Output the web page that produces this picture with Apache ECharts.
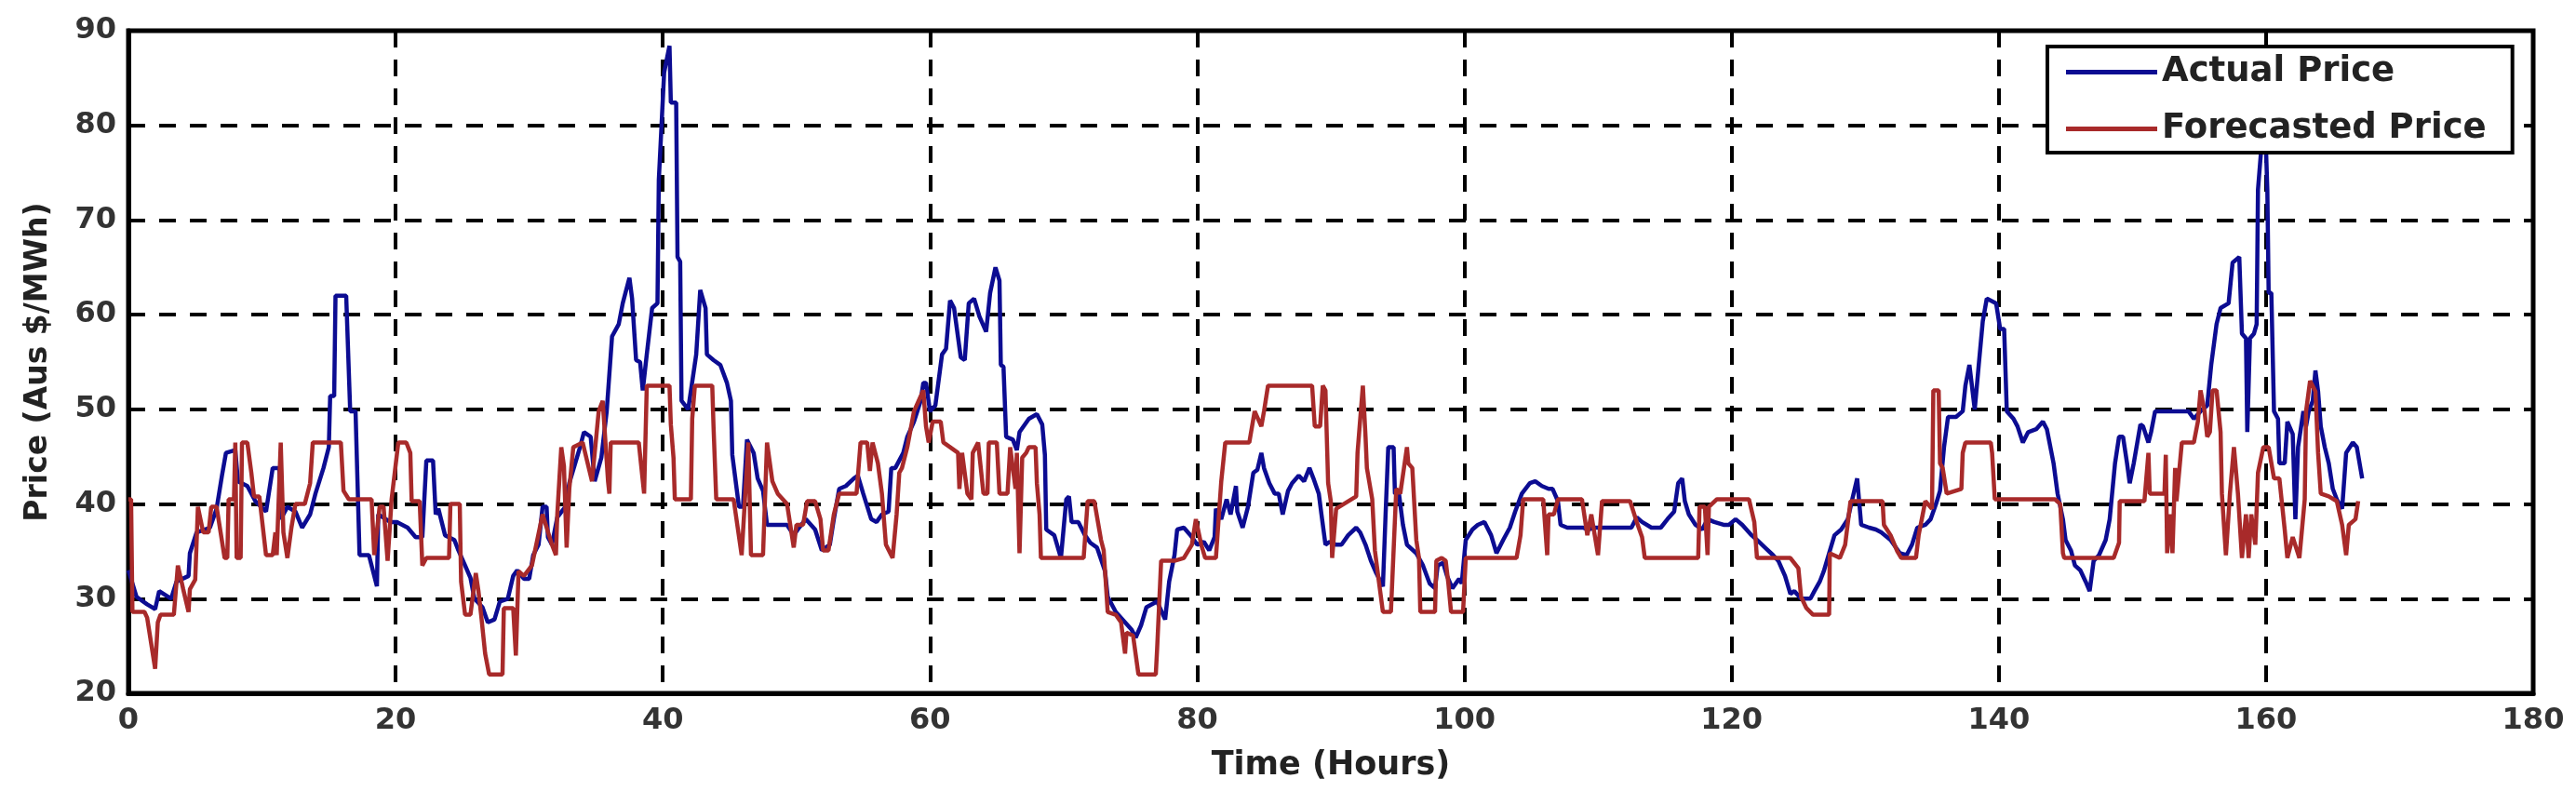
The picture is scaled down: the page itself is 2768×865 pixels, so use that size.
<!DOCTYPE html>
<html>
<head>
<meta charset="utf-8">
<script src="https://cdn.jsdelivr.net/npm/echarts@6/dist/echarts.min.js"></script>
<style>
html,body{margin:0;padding:0;background:#fff;}
#chart{width:2768px;height:865px;}
</style>
</head>
<body>
<div id="chart"></div>
<script>
// ---- data ----
const xTicks = [0, 20, 40, 60, 80, 100, 120, 140, 160, 180];
const yTicks = [20, 30, 40, 50, 60, 70, 80, 90];
const seriesNames = ['Actual Price', 'Forecasted Price'];

const actualHours = [0,0.6,1.4,2.0,2.3,3.2,3.6,4.5,4.6,5.1,6.1,6.6,7.0,7.3,8.0,8.2,8.9,9.5,10.3,10.8,11.3,11.4,11.9,12.5,13.0,13.6,14.0,14.6,15.0,15.1,15.4,15.5,16.3,16.6,17.0,17.3,18.0,18.6,18.7,19.6,20.1,20.9,21.5,22.0,22.3,22.8,23.0,23.2,23.7,24.4,24.7,25.2,25.6,25.9,26.5,26.9,27.4,27.8,28.4,28.8,29.1,29.6,30.0,30.3,30.7,31.0,31.3,31.4,31.7,32.1,32.7,33.0,33.4,33.8,34.1,34.6,34.9,35.4,35.8,36.2,36.7,37.0,37.5,37.7,38.0,38.3,38.5,38.8,39.2,39.6,39.7,40.1,40.5,40.6,41.0,41.1,41.3,41.4,41.9,42.5,42.8,43.2,43.3,43.8,44.3,44.8,45.1,45.2,45.7,46.0,46.3,46.8,47.1,47.5,47.8,48.4,49.3,49.8,50.2,50.7,51.4,51.9,52.5,52.8,53.2,53.7,54.3,54.6,55.0,55.6,56.0,56.4,56.9,57.1,57.4,58.0,58.3,58.8,59.3,59.5,59.7,60.0,60.4,60.9,61.2,61.5,61.8,62.3,62.6,62.9,63.3,63.7,64.2,64.5,64.9,65.2,65.3,65.5,65.7,66.2,66.5,66.7,67.4,68.0,68.4,68.6,68.7,69.3,69.8,70.2,70.4,70.6,71.1,71.6,72.0,72.5,73.1,73.3,73.9,74.6,75.1,75.4,75.8,76.2,77.0,77.6,77.9,78.3,78.5,79.0,79.5,80.0,80.5,80.9,81.3,81.4,81.8,82.2,82.5,82.9,83.0,83.4,83.8,84.2,84.5,84.8,85.0,85.4,85.8,86.1,86.4,86.8,87.1,87.6,88.0,88.4,88.7,89.1,89.3,89.6,89.9,90.4,90.8,91.3,91.9,92.2,92.6,93.0,93.4,93.9,94.1,94.3,94.7,94.8,95.1,95.4,95.7,96.4,96.9,97.4,97.8,98.0,98.4,98.7,99.1,99.6,99.8,100.1,100.6,101.0,101.5,102.0,102.4,102.9,103.4,103.8,104.3,104.9,105.3,105.8,106.3,106.6,107.0,107.2,107.7,108.2,108.9,109.2,109.8,110.3,111.5,112.5,112.9,113.3,114.0,114.7,115.2,115.7,116.0,116.3,116.5,116.8,117.3,117.8,118.2,118.7,119.4,119.8,120.3,120.8,121.5,121.9,122.5,123.1,123.5,124.0,124.4,124.7,125.2,125.9,126.2,126.6,126.9,127.3,127.7,128.2,128.7,129.0,129.4,129.7,130.3,130.8,131.2,131.9,132.6,133.1,133.5,133.9,134.5,134.9,135.3,135.6,135.9,136.2,136.8,137.3,137.5,137.8,138.2,138.5,138.8,139.1,139.8,140.1,140.4,140.6,141.1,141.4,141.8,142.2,142.8,143.3,143.6,144.1,144.4,144.8,145.0,145.4,145.7,146.1,146.5,146.8,147.1,147.5,148.0,148.3,148.7,149.0,149.3,149.6,149.8,150.1,150.6,150.8,151.2,151.4,151.7,152.3,153.3,154.2,154.6,155.1,155.6,155.9,156.3,156.6,157.2,157.5,158.0,158.2,158.5,158.6,158.8,159.1,159.3,159.4,159.9,160.1,160.2,160.4,160.6,160.9,161.0,161.4,161.6,162.0,162.2,162.4,162.8,163.0,163.2,163.5,163.7,163.9,164.1,164.4,164.7,165.0,165.3,165.7,166.0,166.5,166.8,167.2];
const actualPrice = [33,30.2,29.4,28.9,30.8,30.0,31.8,32.4,34.8,37.0,37.5,39.5,43.0,45.4,45.7,42.4,41.9,40.3,39.2,43.8,43.8,38.4,39.7,39.2,37.5,38.9,41.1,43.8,46.0,51.4,51.4,62.0,62.0,49.8,49.8,34.6,34.6,31.3,38.9,38.1,38.1,37.5,36.5,36.5,44.6,44.6,38.9,39.5,36.7,36.2,35.1,33.5,32.2,30.0,29.1,27.5,27.8,29.7,30.0,32.4,33.0,32.1,32.1,34.6,35.7,39.7,39.7,36.5,35.7,38.6,39.7,42.2,44.1,46.0,47.6,47.1,42.4,44.9,49.8,57.7,59.0,61.2,63.9,61.7,55.2,55.0,52.0,55.8,60.7,61.2,74.2,85.6,88.4,82.4,82.4,66.1,65.6,50.9,50.0,55.8,62.6,60.7,55.8,55.2,54.7,52.8,50.9,45.2,39.7,39.7,46.8,45.4,42.7,41.4,37.8,37.8,37.8,36.7,37.5,38.4,37.3,35.1,35.7,38.4,41.6,41.9,42.7,43.0,41.1,38.4,38.1,38.9,39.2,43.8,43.8,45.4,47.1,48.7,50.9,52.8,52.8,49.8,50.4,55.8,56.4,61.5,60.7,55.5,55.2,61.2,61.7,59.8,58.2,62.3,65.0,63.6,54.7,54.5,47.1,46.8,45.7,47.6,49.0,49.5,48.4,45.2,37.3,36.7,34.3,40.5,40.8,38.1,38.1,36.7,35.9,35.4,32.9,30.2,28.6,27.5,26.7,25.9,27.2,29.1,29.7,27.8,31.8,34.6,37.3,37.5,36.7,35.7,36.0,35.1,36.5,39.5,38.4,40.5,38.9,41.9,39.2,37.5,39.7,43.3,43.6,45.4,43.8,42.2,41.1,41.1,38.9,41.4,42.2,43.0,42.4,43.8,42.7,41.1,38.9,35.7,36.0,35.7,35.7,36.7,37.5,37.0,35.7,34.0,32.7,31.3,38.9,46.0,46.0,41.1,41.1,37.8,35.7,34.8,33.5,31.6,31.1,33.5,33.8,32.4,31.1,32.1,31.6,36.2,37.3,37.8,38.1,36.7,34.8,36.2,37.5,39.2,41.1,42.2,42.4,41.9,41.6,41.6,40.3,37.8,37.5,37.5,37.5,37.3,37.5,37.5,37.5,37.5,38.6,38.1,37.5,37.5,38.4,39.2,42.2,42.7,40.3,38.9,37.8,37.3,38.4,38.1,37.8,37.8,38.4,37.8,36.7,36.2,35.4,34.6,34.0,32.4,30.5,30.8,30.0,30.0,30.8,31.8,32.9,34.8,36.7,37.3,38.4,40.3,42.7,37.8,37.5,37.3,37.0,36.2,34.8,34.6,35.7,37.5,37.8,38.4,40.0,41.4,46.0,49.2,49.2,49.8,52.5,54.7,50.0,54.7,59.3,61.7,61.2,58.5,58.5,49.8,49.0,48.2,46.5,47.6,47.9,48.7,47.9,44.3,41.1,38.4,36.2,35.1,33.5,33.0,31.8,30.8,34.0,34.6,36.2,38.4,44.3,47.1,47.1,44.3,42.2,44.3,48.4,48.2,46.5,47.6,49.8,49.8,49.8,49.8,49.0,49.8,50.4,54.7,59.0,60.7,61.2,65.5,66.1,58.0,57.5,47.6,57.5,58.0,59.0,73.2,82.0,73.2,62.3,62.3,49.8,49.0,44.3,44.3,48.7,47.4,38.4,46.0,49.8,48.2,49.8,50.9,54.1,51.9,48.2,46.0,44.3,41.6,40.5,39.5,45.4,46.5,46.0,42.7];

const forecastHours = [0,0.2,0.3,1.2,1.4,1.7,2.0,2.2,2.4,3.4,3.7,4.1,4.5,4.6,5.0,5.2,5.6,6.0,6.2,6.6,7.2,7.4,7.5,7.9,8.0,8.1,8.4,8.5,8.9,9.2,9.4,9.8,10.3,10.8,11.0,11.1,11.4,11.6,11.9,12.2,12.5,13.2,13.6,13.8,15.9,16.1,16.5,18.2,18.4,18.8,19.1,19.4,19.7,20.2,20.8,21.1,21.2,21.8,22.0,22.3,24.0,24.1,24.8,24.9,25.2,25.6,26.0,26.2,26.4,26.7,27.0,28.0,28.1,28.8,29.0,29.2,29.6,30.2,31.0,31.7,32.0,32.1,32.4,32.6,32.8,33.0,33.3,34.0,34.7,35.2,35.5,35.9,36.0,36.1,38.2,38.6,38.8,40.5,40.6,40.8,40.9,42.1,42.2,42.4,43.7,43.8,44.0,45.3,45.9,46.4,46.6,47.5,47.8,48.2,48.6,49.3,49.8,50.0,50.5,50.8,51.4,51.8,52.0,52.4,52.8,53.2,54.5,54.8,55.3,55.5,55.7,56.1,56.4,56.7,57.2,57.5,57.7,57.9,58.3,58.8,59.5,59.7,59.9,60.2,60.8,61.0,62.1,62.2,62.4,62.8,63.1,63.2,63.6,64.0,64.3,64.4,65.0,65.2,65.8,66.0,66.4,66.5,66.7,66.9,67.2,67.4,67.9,68.0,68.2,68.3,71.5,71.8,72.3,72.8,73.0,73.3,73.9,74.3,74.6,74.7,75.2,75.6,76.9,77.0,77.3,78.3,79.0,79.6,79.9,80.3,80.6,81.4,81.8,82.1,83.9,84.3,84.8,85.0,85.3,88.6,88.8,89.2,89.4,89.6,89.8,90.0,90.1,90.4,91.9,92.0,92.4,92.6,92.7,93.1,93.3,93.6,93.9,94.5,94.7,94.9,95.2,95.7,95.8,96.1,96.4,96.6,96.7,97.8,97.9,98.3,98.6,98.8,99.0,99.9,100.1,103.9,104.2,104.4,105.9,106.2,106.3,106.7,107.0,108.8,109.2,109.5,110.0,110.3,112.4,112.9,113.3,113.5,117.5,117.6,118.0,118.2,118.3,118.9,121.3,121.7,121.9,124.4,125.0,125.2,125.6,126.1,127.3,127.35,128.1,128.5,128.9,131.3,131.4,131.9,132.4,132.7,133.8,134.0,134.5,135.0,135.1,135.5,135.6,135.8,136.1,137.2,137.3,137.5,139.4,139.5,139.7,144.2,144.6,144.8,144.9,148.6,149.0,149.05,150.9,151.2,151.3,152.4,152.5,152.6,152.8,153.0,153.2,153.3,153.7,154.6,154.9,155.1,155.4,155.6,155.8,156.0,156.3,156.6,156.7,157.0,157.3,157.6,157.9,158.2,158.5,158.7,158.9,159.2,159.4,159.8,160.2,160.6,161.0,161.4,161.6,162.0,162.5,162.9,163.0,163.3,163.7,163.9,164.1,164.7,165.3,165.7,166.0,166.2,166.7,166.9];
const forecastPrice = [40.5,40.5,28.6,28.6,28.0,25.3,22.6,27.5,28.3,28.3,33.5,31.0,28.6,31.0,32.0,39.7,37.0,37.0,39.7,39.7,34.3,34.3,40.5,40.5,46.5,34.3,34.3,46.5,46.5,43.3,40.8,40.8,34.6,34.6,37.0,34.6,46.5,37.0,34.3,37.5,40.0,40.0,42.2,46.5,46.5,41.4,40.5,40.5,34.6,39.7,39.7,34.0,40.5,46.5,46.5,45.4,40.3,40.3,33.5,34.3,34.3,40.0,40.0,31.8,28.3,28.3,32.7,30.8,28.3,24.2,22.0,22.0,29.0,29.0,24.0,32.9,32.4,33.5,38.9,35.7,34.6,38.9,46.0,44.0,35.4,41.6,46.0,46.5,42.4,49.8,50.9,42.4,41.1,46.5,46.5,41.1,52.5,52.5,48.4,44.9,40.5,40.5,49.0,52.5,52.5,48.0,40.5,40.5,34.6,46.5,34.6,34.6,46.5,42.4,41.1,40.0,35.4,37.8,37.8,40.3,40.3,38.4,35.1,35.1,38.9,41.1,41.1,46.5,46.5,43.5,46.5,44.3,41.1,35.7,34.3,38.9,43.3,43.8,46.0,49.8,52.0,48.2,46.5,48.7,48.7,46.5,45.4,41.6,45.4,41.1,40.5,45.4,46.5,41.1,41.1,46.5,46.5,41.1,41.1,46.0,41.6,45.4,34.8,44.9,45.4,46.0,46.0,42.2,38.9,34.3,34.3,40.3,40.3,36.2,35.1,28.6,28.3,27.5,24.2,26.4,26.1,22.0,22.0,24.7,34.0,34.0,34.3,35.7,38.4,35.7,34.3,34.3,42.4,46.5,46.5,49.8,48.2,49.8,52.5,52.5,48.2,48.2,52.5,52.0,42.2,40.3,34.3,39.5,40.8,45.4,52.5,47.1,43.8,40.5,35.1,31.8,28.6,28.6,35.1,41.6,41.1,46.0,44.3,43.8,36.2,34.3,28.6,28.6,34.0,34.3,34.0,31.6,28.6,28.6,34.3,34.3,36.7,40.5,40.5,34.6,38.9,38.9,40.5,40.5,36.7,38.9,34.6,40.3,40.3,38.1,36.5,34.3,34.3,39.7,39.7,34.6,39.7,40.5,40.5,38.1,34.3,34.3,33.2,30.2,29.0,28.3,28.3,34.8,34.3,35.7,40.3,40.3,37.8,36.7,35.0,34.3,34.3,36.7,40.3,39.5,52.0,52.0,44.3,43.8,41.1,41.6,45.4,46.5,46.5,45.4,40.5,40.5,40.0,34.8,34.3,34.3,35.9,40.3,40.3,45.4,41.1,41.1,45.2,34.8,38.9,34.8,43.8,40.3,46.5,46.5,48.7,52.0,49.8,47.1,47.6,52.0,52.0,47.6,41.1,34.6,41.1,46.0,41.1,34.3,38.9,34.3,38.9,35.7,43.3,46.0,46.0,42.7,42.7,37.3,34.3,36.5,34.3,40.5,49.8,53.0,51.9,45.4,41.1,40.8,40.3,37.8,34.6,37.8,38.4,40.3];

// ---- build chart ----
const zip = (xs, ys) => xs.map((x, i) => [x, ys[i]]);
const FONT = '"DejaVu Sans", sans-serif';
const BLUE = '#0c0c92';
const RED = '#a82a2a';
const chart = echarts.init(document.getElementById('chart'), null, {renderer: 'canvas'});

chart.setOption({
  animation: false,
  backgroundColor: '#ffffff',
  grid: {
    left: 138, right: 46, top: 33, bottom: 120,
    show: true, borderColor: '#000', borderWidth: 5, backgroundColor: 'transparent'
  },
  legend: {
    data: seriesNames,
    orient: 'vertical',
    left: 2200, top: 50,
    padding: [9, 28, 7, 20],
    itemGap: 24,
    itemWidth: 98,
    itemHeight: 5,
    icon: 'rect',
    borderColor: '#000',
    borderWidth: 4,
    borderRadius: 0,
    backgroundColor: '#fff',
    textStyle: {fontFamily: FONT, fontWeight: 'bold', fontSize: 37, color: '#222'}
  },
  xAxis: {
    type: 'value',
    min: xTicks[0], max: xTicks[xTicks.length - 1], interval: 20,
    name: 'Time (Hours)', nameLocation: 'middle', nameGap: 60,
    nameTextStyle: {fontFamily: FONT, fontWeight: 'bold', fontSize: 35, color: '#222'},
    axisLine: {show: true, lineStyle: {color: '#000', width: 5}},
    axisTick: {show: false},
    axisLabel: {fontFamily: FONT, fontWeight: 'bold', fontSize: 32, color: '#333', margin: 14},
    splitLine: {show: true, lineStyle: {color: '#000', width: 4, type: [18, 13]}}
  },
  yAxis: {
    type: 'value',
    min: yTicks[0], max: yTicks[yTicks.length - 1], interval: 10,
    name: 'Price (Aus $/MWh)', nameLocation: 'middle', nameGap: 80, nameRotate: 90,
    nameTextStyle: {fontFamily: FONT, fontWeight: 'bold', fontSize: 33, color: '#222'},
    axisLine: {show: true, lineStyle: {color: '#000', width: 5}},
    axisTick: {show: false},
    axisLabel: {fontFamily: FONT, fontWeight: 'bold', fontSize: 32, color: '#333', margin: 13},
    splitLine: {show: true, lineStyle: {color: '#000', width: 4, type: [18, 15]}}
  },
  series: [
    {
      name: seriesNames[0], type: 'line', data: zip(actualHours, actualPrice),
      symbol: 'none', showSymbol: false,
      lineStyle: {color: BLUE, width: 4.5}, itemStyle: {color: BLUE}
    },
    {
      name: seriesNames[1], type: 'line', data: zip(forecastHours, forecastPrice),
      symbol: 'none', showSymbol: false,
      lineStyle: {color: RED, width: 4.5}, itemStyle: {color: RED}
    }
  ]
});
</script>
</body>
</html>
